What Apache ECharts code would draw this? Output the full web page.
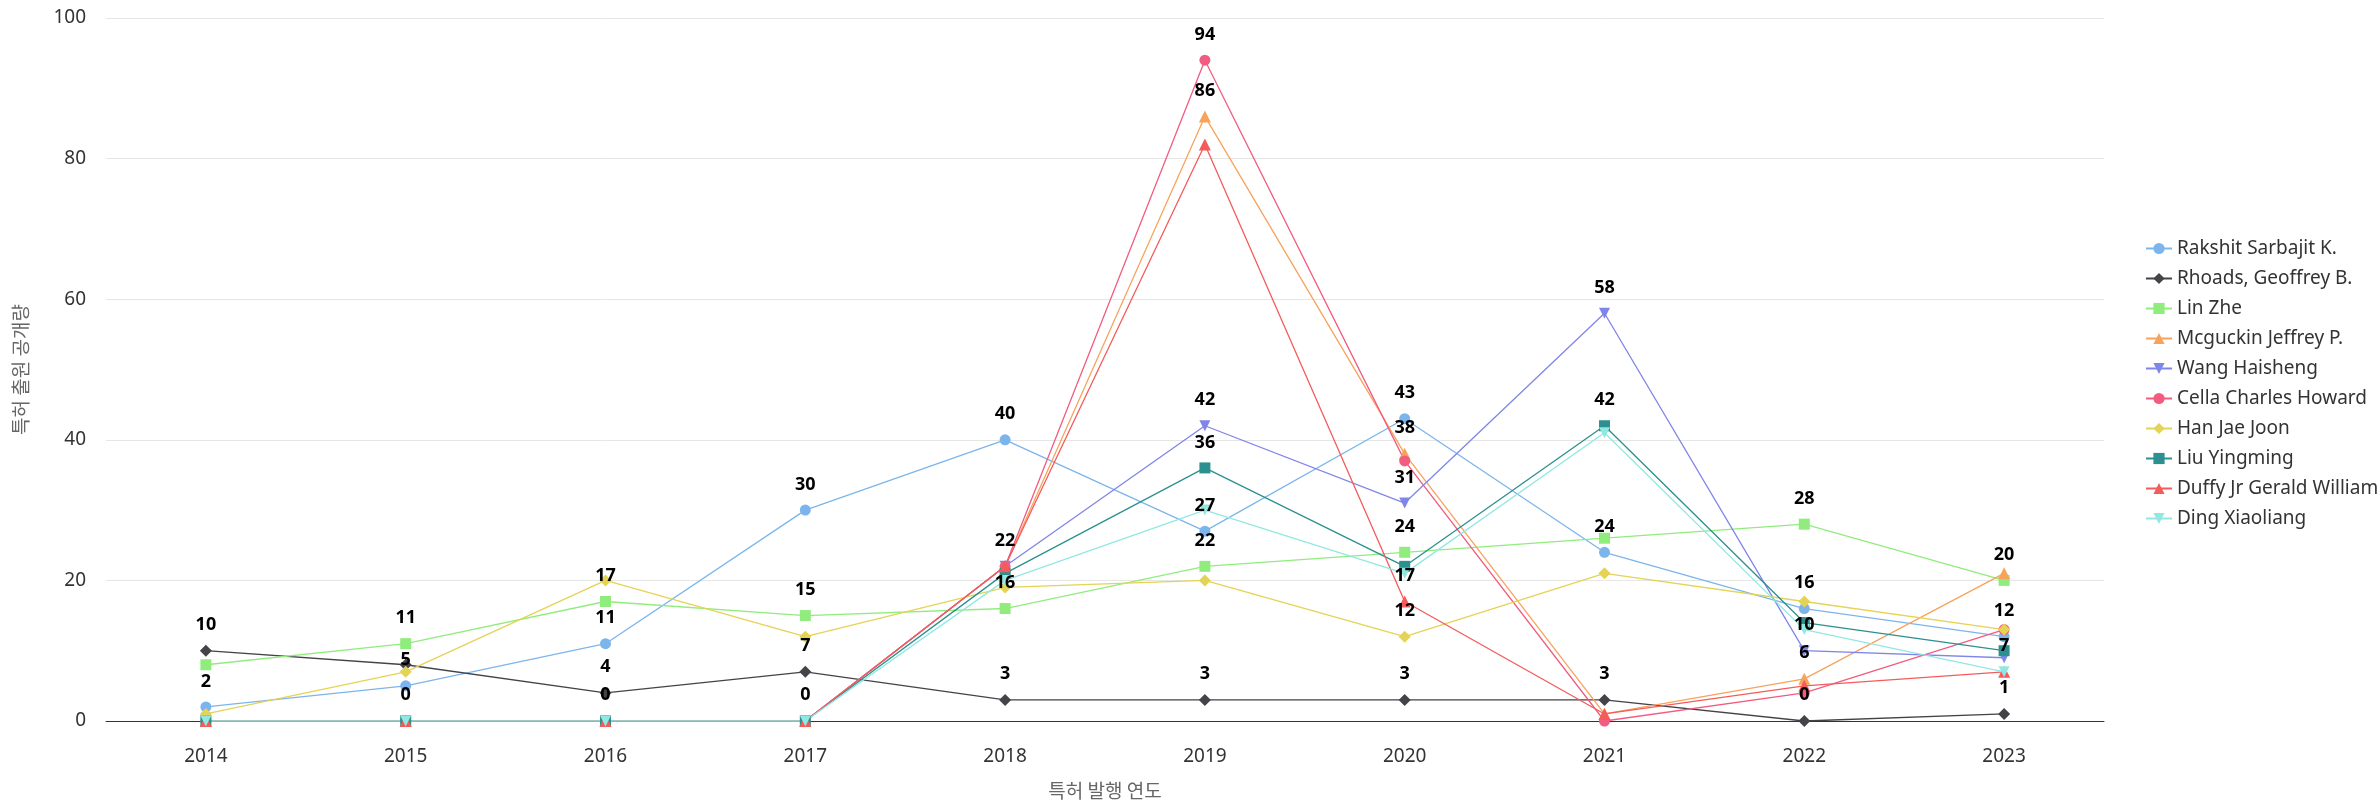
<!DOCTYPE html>
<html><head><meta charset="utf-8">
<script src="https://cdn.jsdelivr.net/npm/echarts@6/dist/echarts.min.js"></script>
<style>html,body{margin:0;padding:0;background:#fff}#c{width:2380px;height:811px}</style>
</head><body><div id="c"></div>
<script>
const years = ['2014','2015','2016','2017','2018','2019','2020','2021','2022','2023'];
const seriesNames = ['Rakshit Sarbajit K.','Rhoads, Geoffrey B.','Lin Zhe','Mcguckin Jeffrey P.','Wang Haisheng','Cella Charles Howard','Han Jae Joon','Liu Yingming','Duffy Jr Gerald William','Ding Xiaoliang'];
const rakshit = [2,5,11,30,40,27,43,24,16,12];
const rhoads  = [10,8,4,7,3,3,3,3,0,1];
const linZhe  = [8,11,17,15,16,22,24,26,28,20];
const mcguckin= [0,0,0,0,22,86,38,1,6,21];
const wang    = [0,0,0,0,22,42,31,58,10,9];
const cella   = [0,0,0,0,22,94,37,0,4,13];
const han     = [1,7,20,12,19,20,12,21,17,13];
const liu     = [0,0,0,0,21,36,22,42,14,10];
const duffy   = [0,0,0,0,22,82,17,1,5,7];
const ding    = [0,0,0,0,20,30,21,41,13,7];
const values = [rakshit,rhoads,linZhe,mcguckin,wang,cella,han,liu,duffy,ding];
// which value labels are visible in the reference (1 = shown), per series
const labelsRakshit = [1,1,1,1,1,1,1,1,1,1];
const labelsRhoads  = [1,0,1,1,1,1,1,1,1,1];
const labelsLinZhe  = [0,1,1,1,1,1,1,0,1,1];
const labelsMcguckin= [0,1,1,1,0,1,1,0,1,0];
const labelsWang    = [0,0,0,0,0,1,1,1,1,0];
const labelsCella   = [0,0,0,0,1,1,0,0,0,0];
const labelsHan     = [0,0,0,0,0,0,1,0,0,0];
const labelsLiu     = [0,0,0,0,0,1,0,1,0,0];
const labelsDuffy   = [0,0,0,0,0,0,1,0,0,0];
const labelsDing    = [0,0,0,0,0,0,0,0,0,1];
const labelMasks = [labelsRakshit,labelsRhoads,labelsLinZhe,labelsMcguckin,labelsWang,labelsCella,labelsHan,labelsLiu,labelsDuffy,labelsDing];
const yTicks = [0,20,40,60,80,100];
const xTitle = '특허 발행 연도';
const yTitle = '특허 출원 공개량';

const colors = ['#7cb5ec','#434348','#90ed7d','#f7a35c','#8085e9','#f15c80','#e4d354','#2b908f','#f45b5b','#91e8e1'];
const symbols = ['circle','diamond','rect','triangle','path://M0,0 L10,0 L5,10 Z','circle','diamond','rect','triangle','path://M0,0 L10,0 L5,10 Z'];
const sizes = {circle:11, diamond:12, rect:11, triangle:12};

const chart = echarts.init(document.getElementById('c'));
chart.setOption({
  animation:false,
  color: colors,
  grid:{left:106,right:276,top:18,bottom:90},
  legend:{
    orient:'vertical', left:2140, top:234, itemGap:11, itemWidth:26, itemHeight:14,
    textStyle:{fontSize:19,color:'#333',fontFamily:'Noto Sans'},
    data: seriesNames
  },
  xAxis:{
    type:'category', data:years, boundaryGap:true,
    axisLine:{lineStyle:{color:'#333',width:1}},
    axisTick:{show:false},
    axisLabel:{fontSize:19,color:'#333',margin:26,fontFamily:'Noto Sans'},
    name:xTitle, nameLocation:'middle', nameGap:60,
    nameTextStyle:{fontSize:19,color:'#666',fontFamily:'Noto Sans CJK KR'}
  },
  yAxis:{
    type:'value', min:yTicks[0], max:yTicks[yTicks.length-1], interval:20,
    axisLine:{show:false}, axisTick:{show:false},
    splitLine:{lineStyle:{color:'#e6e6e6',width:1}},
    axisLabel:{fontSize:19,color:'#333',margin:20,fontFamily:'Noto Sans'},
    name:yTitle, nameLocation:'middle', nameGap:76,
    nameTextStyle:{fontSize:19,color:'#666',fontFamily:'Noto Sans CJK KR'}
  },
  series: seriesNames.map((n,i)=>({
    name:n, type:'line',
    data: values[i].map((v,j)=>({value:v, label:{show: labelMasks[i][j]===1}})),
    symbol:symbols[i], symbolSize: sizes[symbols[i]] || 11,
    showAllSymbol:true,
    lineStyle:{width:1.3,color:colors[i]},
    itemStyle:{color:colors[i]},
    label:{position:'top',distance:11,fontSize:18,fontWeight:'bold',color:'#000',fontFamily:'Noto Sans'},
    emphasis:{disabled:true}
  }))
});
</script></body></html>
